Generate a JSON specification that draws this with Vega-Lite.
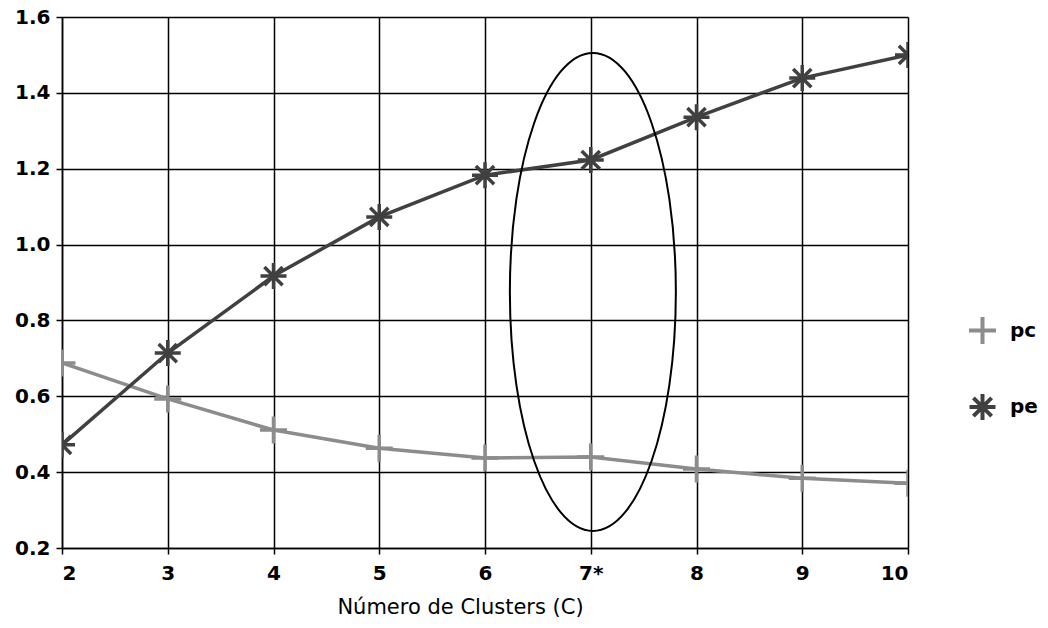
{
  "$schema": "https://vega.github.io/schema/vega-lite/v6.json",
  "width": 846,
  "height": 531,
  "autosize": {"type": "none"},
  "padding": {"left": 62, "top": 17, "right": 140, "bottom": 80},
  "background": "white",
  "config": {
    "view": {"stroke": null},
    "font": "DejaVu Sans",
    "axis": {
      "labelFont": "DejaVu Sans",
      "labelFontSize": 20,
      "labelFontWeight": "bold",
      "labelColor": "black",
      "titleFont": "DejaVu Sans",
      "titleFontSize": 21,
      "titleFontWeight": "normal",
      "titleColor": "black",
      "gridColor": "black",
      "gridWidth": 1.5,
      "gridOpacity": 1,
      "domainColor": "black",
      "domainWidth": 1.5,
      "tickColor": "black",
      "tickWidth": 1.5,
      "tickSize": 6
    }
  },
  "datasets": {
    "series": [
      {"C": 2, "series": "pc", "value": 0.688},
      {"C": 3, "series": "pc", "value": 0.593},
      {"C": 4, "series": "pc", "value": 0.511},
      {"C": 5, "series": "pc", "value": 0.463},
      {"C": 6, "series": "pc", "value": 0.437},
      {"C": 7, "series": "pc", "value": 0.440},
      {"C": 8, "series": "pc", "value": 0.408},
      {"C": 9, "series": "pc", "value": 0.384},
      {"C": 10, "series": "pc", "value": 0.371},
      {"C": 2, "series": "pe", "value": 0.472},
      {"C": 3, "series": "pe", "value": 0.714},
      {"C": 4, "series": "pe", "value": 0.917},
      {"C": 5, "series": "pe", "value": 1.073},
      {"C": 6, "series": "pe", "value": 1.183},
      {"C": 7, "series": "pe", "value": 1.223},
      {"C": 8, "series": "pe", "value": 1.336},
      {"C": 9, "series": "pe", "value": 1.439},
      {"C": 10, "series": "pe", "value": 1.500}
    ],
    "highlight": [
      {"C": 7.02, "value": 0.875}
    ]
  },
  "layer": [
    {
      "data": {"name": "series"},
      "mark": {"type": "line", "strokeWidth": 3.5, "clip": true},
      "encoding": {
        "x": {
          "field": "C", "type": "quantitative",
          "scale": {"domain": [2, 10], "nice": false, "zero": false},
          "axis": {
            "values": [2, 3, 4, 5, 6, 7, 8, 9, 10],
            "format": "d",
            "grid": true,
            "labelPadding": 9,
            "titlePadding": 13,
            "titleX": 398,
            "titleAlign": "center",
            "title": "Número de Clusters (C)",
            "labelExpr": "datum.value == 7 ? '7*' : datum.label"
          }
        },
        "y": {
          "field": "value", "type": "quantitative",
          "scale": {"domain": [0.2, 1.6], "nice": false, "zero": false},
          "axis": {
            "values": [0.2, 0.4, 0.6, 0.8, 1.0, 1.2, 1.4, 1.6],
            "format": ".1f",
            "grid": true,
            "title": null,
            "labelPadding": 6
          }
        },
        "color": {
          "field": "series", "type": "nominal",
          "scale": {"domain": ["pc", "pe"], "range": ["#8c8c8c", "#404040"]}
        }
      }
    },
    {
      "data": {"name": "series"},
      "mark": {"type": "point", "filled": false, "strokeWidth": 3.5, "opacity": 1, "clip": true},
      "encoding": {
        "x": {"field": "C", "type": "quantitative"},
        "y": {"field": "value", "type": "quantitative"},
        "color": {
          "field": "series", "type": "nominal",
          "scale": {"domain": ["pc", "pe"], "range": ["#8c8c8c", "#404040"]},
          "legend": {
            "title": null,
            "orient": "none",
            "legendX": 905,
            "legendY": 298,
            "symbolSize": 1444,
            "symbolStrokeWidth": 4,
            "labelFontSize": 20,
            "labelFontWeight": "bold",
            "labelColor": "black",
            "labelFont": "DejaVu Sans",
            "rowPadding": 34,
            "labelOffset": 12
          }
        },
        "shape": {
          "field": "series", "type": "nominal",
          "scale": {
            "domain": ["pc", "pe"],
            "range": [
              "M -1 0 L 1 0 M 0 -1 L 0 1",
              "M -1 0 L 1 0 M 0 -1 L 0 1 M -0.7 -0.7 L 0.7 0.7 M -0.7 0.7 L 0.7 -0.7"
            ]
          }
        },
        "size": {
          "field": "series", "type": "nominal",
          "scale": {"domain": ["pc", "pe"], "range": [729, 676]},
          "legend": null
        }
      }
    },
    {
      "data": {"name": "highlight"},
      "mark": {
        "type": "point",
        "filled": false,
        "stroke": "black",
        "strokeWidth": 2,
        "opacity": 1,
        "size": 27556,
        "shape": "M -1 0 A 1 2.88 0 1 1 1 0 A 1 2.88 0 1 1 -1 0 Z"
      },
      "encoding": {
        "x": {"field": "C", "type": "quantitative"},
        "y": {"field": "value", "type": "quantitative"}
      }
    }
  ]
}
